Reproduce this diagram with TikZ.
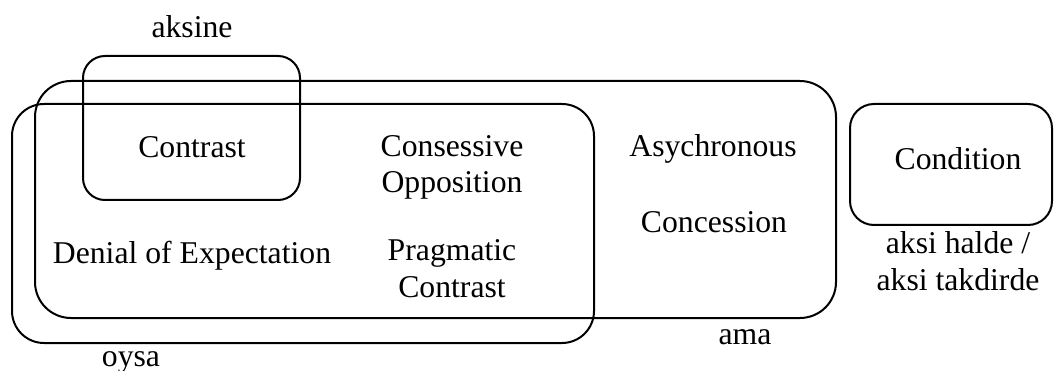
\documentclass[tikz,border=0pt]{standalone}
\usepackage{fontspec}
\setmainfont{Liberation Serif}
\begin{document}
\begin{tikzpicture}[x=1pt,y=-1pt,
  region/.style={draw, line width=2pt, inner sep=0pt, outer sep=0pt,
    rounded corners=#1},
  lbl/.style={font=\fontsize{31.7}{36}\selectfont, inner sep=0pt,
    anchor=base, align=center}]
\useasboundingbox (0,0) rectangle (1054,371);

% overlapping regions of connectives
\node[region=32pt, minimum width=582pt, minimum height=239pt] (oysa) at (303,223.5) {};
\node[region=36pt, minimum width=801pt, minimum height=237pt] (ama) at (435.5,199.5) {};
\node[region=22pt, minimum width=217pt, minimum height=144pt] (aksine) at (191.5,128) {};
\node[region=24pt, minimum width=202pt, minimum height=121pt] (cond) at (951,164.5) {};

% relation names (multi-line labels are placed by their last baseline)
\node[lbl] (contrast) at (192,158) {Contrast};
\node[lbl] (consessive) at (452,193) {Consessive\\Opposition};
\node[lbl] (denial) at (192,264) {Denial of Expectation};
\node[lbl] (pragmatic) at (452,297) {Pragmatic\\Contrast};
\node[lbl] (asyn) at (713,157) {Asychronous};
\node[lbl] (concession) at (714,233) {Concession};
\node[lbl] (condition) at (958,170) {Condition};

% connective labels
\node[lbl] (aksinelbl) at (192,38) {aksine};
\node[lbl] (oysalbl) at (131,366) {oysa};
\node[lbl] (amalbl) at (745,344) {ama};
\node[lbl] (aksihalde) at (958,290) {aksi halde /\\aksi takdirde};
\end{tikzpicture}
\end{document}
